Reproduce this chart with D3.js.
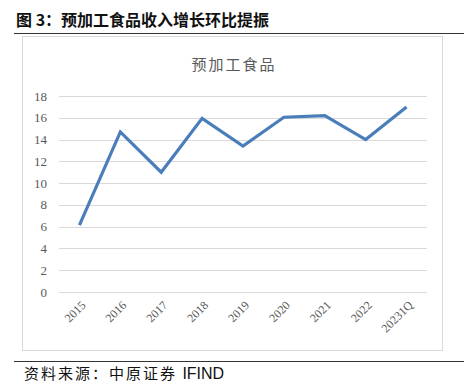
<!DOCTYPE html>
<html>
<head>
<meta charset="utf-8">
<script src="https://cdn.jsdelivr.net/npm/d3@7"></script>
<style>
  body { margin: 0; background: #fff; }
</style>
</head>
<body>
<div class="svg"></div>
<script>
const years = ["2015", "2016", "2017", "2018", "2019", "2020", "2021", "2022", "20231Q"];
const values = [6.15, 14.7, 11.0, 15.95, 13.4, 16.05, 16.2, 14.0, 17.0];
const yTicks = [0, 2, 4, 6, 8, 10, 12, 14, 16, 18];

const width = 464, height = 388;
const svg = d3.select('.svg').append('svg').attr('width', width).attr('height', height);

// heading
svg.append('text').attr('x', 16).attr('y', 26)
  .attr('font-family', '"Noto Sans CJK SC", sans-serif').attr('font-weight', 'bold')
  .attr('font-size', 16).attr('fill', '#111')
  .text('图 3：预加工食品收入增长环比提振');
svg.append('line').attr('x1', 14).attr('x2', 464).attr('y1', 33.5).attr('y2', 33.5)
  .attr('stroke', '#333').attr('stroke-width', 1);

// chart frame
svg.append('rect').attr('x', 22.5).attr('y', 36.5).attr('width', 420).attr('height', 314)
  .attr('fill', 'none').attr('stroke', '#d9d9d9');

svg.append('text').attr('x', 234).attr('y', 70).attr('text-anchor', 'middle')
  .attr('font-family', '"Noto Sans CJK SC", sans-serif').attr('font-size', 15)
  .attr('letter-spacing', 2)
  .attr('fill', '#595959').text('预加工食品');

const plotLeft = 59, plotRight = 427, plotTop = 96, plotBottom = 292;
const x = d3.scaleBand().domain(years).range([plotLeft, plotRight]);
const y = d3.scaleLinear().domain([0, 18]).range([plotBottom, plotTop]);

const g = svg.append('g');

// gridlines
g.selectAll('.grid').data(yTicks).enter().append('line')
  .attr('x1', plotLeft).attr('x2', plotRight)
  .attr('y1', d => Math.round(y(d)) + 0.5).attr('y2', d => Math.round(y(d)) + 0.5)
  .attr('stroke', '#d9d9d9').attr('stroke-width', 1);

// y labels
g.selectAll('.yl').data(yTicks).enter().append('text')
  .attr('x', 47).attr('y', d => y(d)).attr('dy', '0.35em')
  .attr('text-anchor', 'end')
  .attr('font-family', '"Liberation Serif", serif').attr('font-size', 13)
  .attr('fill', '#595959').text(d => d);

// x labels
g.selectAll('.xl').data(years).enter().append('text')
  .attr('transform', d => 'translate(' + (x(d) + x.bandwidth() / 2 + 4) + ',' + (plotBottom + 11) + ') rotate(-45)')
  .attr('text-anchor', 'end').attr('dy', '0.35em')
  .attr('font-family', '"Liberation Serif", serif').attr('font-size', 12)
  .attr('fill', '#595959').text(d => d);

// line
const line = d3.line()
  .x((d, i) => x(years[i]) + x.bandwidth() / 2)
  .y(d => y(d));
g.append('path').datum(values).attr('d', line)
  .attr('fill', 'none').attr('stroke', '#4a7ebb').attr('stroke-width', 3.2)
  .attr('stroke-linejoin', 'miter');

// footer
svg.append('line').attr('x1', 14).attr('x2', 464).attr('y1', 361.5).attr('y2', 361.5)
  .attr('stroke', '#333').attr('stroke-width', 1);
const foot = svg.append('text').attr('x', 24).attr('y', 379)
  .attr('font-family', '"Noto Sans CJK SC", sans-serif')
  .attr('font-size', 15).attr('fill', '#111');
foot.append('tspan').attr('letter-spacing', 2).text('资料来源：中原证券 ');
foot.append('tspan').attr('font-family', '"Liberation Sans", Arial, sans-serif')
  .attr('font-size', 16).text('IFIND');
</script>
</body>
</html>
